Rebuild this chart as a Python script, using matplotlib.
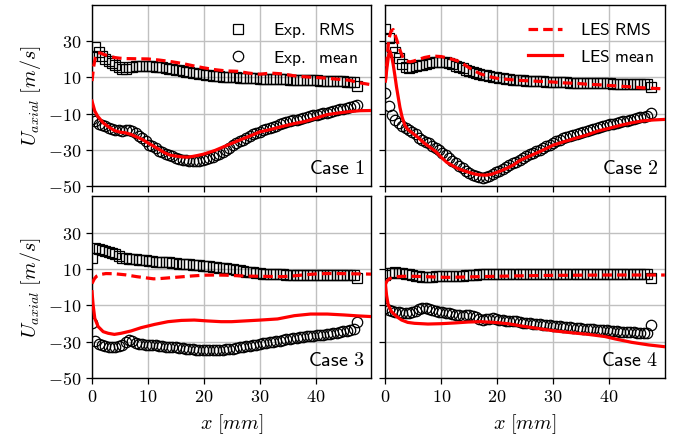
import numpy as np
import matplotlib
matplotlib.use("Agg")
import matplotlib.pyplot as plt
from matplotlib.ticker import FuncFormatter

plt.rcParams['mathtext.fontset'] = 'cm'

# ---------- experimental data (measurement grid + last probe) ----------
x_exp = np.append(np.arange(0, 46.9, 0.6), 47.5)

rms_1 = [22, 27, 24, 22, 20, 19, 18, 17, 15.5, 14.5,
         14.8, 15.5, 16, 16.2, 16.3, 16.3, 16.2, 16.2, 16.1, 16.0,
         15.8, 15.5, 15.2, 14.9, 14.6, 14.3, 14.0, 13.6, 13.2, 12.9,
         12.6, 12.3, 12.0, 11.7, 11.5, 11.2, 11.0, 10.8, 10.6, 10.4,
         10.3, 10.2, 10.1, 10.0, 9.9, 9.8, 9.7, 9.6, 9.5, 9.5,
         9.4, 9.3, 9.3, 9.2, 9.2, 9.1, 9.0, 9.0, 8.9, 8.8,
         8.8, 8.7, 8.7, 8.6, 8.5, 8.5, 8.4, 8.4, 8.3, 8.3,
         8.2, 8.1, 8.1, 8.0, 7.9, 7.8, 7.7, 7.6, 7.5, 5.2]
mean_1 = [-13.1, -14.0, -15.5, -16.3, -17.0, -17.7, -18.2, -18.8, -19.2, -19.3,
          -18.8, -18.7, -19.5, -20.8, -22.0, -23.5, -25.0, -27.0, -28.0, -29.0,
          -30.3, -31.2, -32.0, -32.8, -33.5, -34.2, -34.8, -35.3, -35.7, -36.0,
          -36.1, -36.0, -35.8, -35.4, -34.9, -34.3, -33.6, -32.8, -32.0, -31.0,
          -29.8, -28.6, -27.4, -26.3, -25.2, -24.2, -23.2, -22.3, -21.4, -20.6,
          -19.8, -19.1, -18.4, -17.7, -17.1, -16.5, -15.9, -15.3, -14.7, -14.2,
          -13.7, -13.2, -12.7, -12.2, -11.7, -11.3, -10.9, -10.5, -10.2, -9.8,
          -9.4, -9.0, -8.6, -8.1, -7.6, -7.1, -6.6, -6.1, -5.7, -4.9]

rms_2 = [36.5, 31.5, 27.0, 24.0, 20.5, 17.5, 15.5, 15.4, 15.8, 16.2,
         16.6, 17.1, 17.6, 18.0, 18.3, 18.5, 18.6, 18.5, 18.3, 17.9,
         17.2, 16.5, 15.8, 15.0, 14.2, 13.5, 13.0, 12.4, 11.9, 11.5,
         11.1, 10.7, 10.3, 10.0, 9.7, 9.5, 9.2, 9.0, 8.8, 8.6,
         8.5, 8.4, 8.3, 8.2, 8.1, 8.0, 7.9, 7.8, 7.7, 7.6,
         7.6, 7.5, 7.4, 7.4, 7.3, 7.2, 7.2, 7.1, 7.1, 7.0,
         7.0, 6.9, 6.9, 6.8, 6.8, 6.7, 6.7, 6.7, 6.6, 6.6,
         6.6, 6.5, 6.5, 6.5, 6.4, 6.4, 6.4, 6.3, 6.3, 4.8]
mean_2 = [1.5, -5.5, -10.5, -13.2, -15.0, -16.6, -18.0, -19.2, -20.3, -21.4,
          -23.3, -24.3, -25.3, -26.3, -27.5, -28.8, -30.2, -31.5, -32.9, -34.3,
          -35.9, -37.3, -38.8, -40.1, -41.5, -42.6, -43.5, -44.2, -44.8, -45.2,
          -44.8, -44.2, -43.3, -42.3, -41.3, -40.2, -39.2, -38.3, -37.3, -36.3,
          -35.4, -34.4, -33.4, -32.4, -31.5, -30.6, -29.7, -28.8, -27.9, -27.0,
          -26.0, -25.1, -24.3, -23.6, -22.9, -22.2, -21.6, -21.0, -20.5, -19.9,
          -19.3, -18.8, -18.3, -17.8, -17.3, -16.8, -16.3, -15.8, -15.4, -15.0,
          -14.6, -14.2, -13.8, -13.4, -12.9, -12.4, -11.9, -11.5, -11.2, -9.6]

rms_3 = [15.9, 21.4, 21.0, 20.4, 19.8, 19.3, 18.7, 18.3, 17.0, 15.9,
         15.9, 15.7, 15.5, 15.3, 15.1, 14.9, 14.7, 14.5, 14.3, 14.1,
         14.0, 13.9, 13.7, 13.6, 13.4, 13.2, 13.0, 12.8, 12.6, 12.5,
         12.4, 12.2, 12.0, 11.8, 11.6, 11.4, 11.2, 11.0, 10.8, 10.6,
         10.4, 10.1, 9.8, 9.5, 9.2, 8.9, 8.6, 8.4, 8.2, 7.9,
         7.7, 7.5, 7.4, 7.3, 7.2, 7.1, 7.0, 7.0, 6.9, 6.9,
         6.8, 6.8, 6.8, 6.7, 6.7, 6.7, 6.7, 6.7, 6.7, 6.7,
         6.7, 6.7, 6.7, 6.7, 6.7, 6.7, 6.7, 6.7, 6.7, 4.9]
mean_3 = [-19.9, -29.8, -31.2, -32.0, -32.6, -33.0, -33.1, -32.9, -32.6, -32.0,
          -30.3, -29.2, -29.8, -30.6, -31.1, -31.5, -31.7, -31.9, -32.0, -32.1,
          -32.3, -32.5, -32.7, -32.8, -33.0, -33.2, -33.4, -33.6, -33.8, -34.0,
          -34.3, -34.5, -34.6, -34.6, -34.6, -34.7, -34.6, -34.6, -34.5, -34.4,
          -34.3, -34.1, -33.8, -33.5, -33.2, -32.9, -32.6, -32.3, -32.0, -31.6,
          -31.3, -31.0, -30.7, -30.3, -30.0, -29.7, -29.4, -29.1, -28.8, -28.5,
          -28.2, -28.0, -27.7, -27.4, -27.1, -26.9, -26.7, -26.5, -26.3, -26.1,
          -26.0, -25.7, -25.4, -25.0, -24.7, -24.3, -23.9, -23.5, -23.2, -19.0]

rms_4 = [6.7, 7.6, 8.0, 8.2, 7.9, 7.6, 7.3, 7.1, 6.7, 6.3,
         6.0, 5.8, 5.8, 5.8, 5.8, 5.9, 6.0, 6.1, 6.2, 6.3,
         6.3, 6.3, 6.3, 6.4, 6.5, 6.6, 6.7, 6.9, 7.0, 7.1,
         7.1, 7.2, 7.2, 7.2, 7.2, 7.2, 7.2, 7.2, 7.2, 7.2,
         7.2, 7.3, 7.3, 7.2, 7.2, 7.1, 7.1, 7.2, 7.2, 7.3,
         7.3, 7.3, 7.2, 7.2, 7.2, 7.1, 7.2, 7.2, 7.3, 7.3,
         7.2, 7.2, 7.2, 7.3, 7.3, 7.2, 7.2, 7.2, 7.2, 7.2,
         7.2, 7.2, 7.2, 7.2, 7.2, 7.2, 7.2, 7.2, 7.2, 5.3]
mean_4 = [-11.7, -12.6, -13.1, -13.6, -13.9, -14.0, -14.0, -14.0, -13.7, -13.0,
          -11.9, -11.4, -11.6, -12.2, -12.8, -13.2, -13.5, -13.8, -14.1, -14.4,
          -14.8, -15.2, -15.5, -15.7, -15.5, -15.4, -15.9, -16.5, -17.5, -18.0,
          -17.6, -17.4, -17.2, -17.5, -18.0, -18.2, -18.4, -18.5, -18.7, -18.9,
          -19.2, -19.5, -19.7, -19.9, -20.1, -20.3, -20.5, -20.7, -20.8, -21.0,
          -21.2, -21.4, -21.6, -21.8, -22.0, -22.2, -22.4, -22.6, -22.7, -22.9,
          -23.0, -23.1, -23.2, -23.4, -23.5, -23.6, -23.8, -24.0, -24.2, -24.3,
          -24.5, -24.6, -24.7, -24.8, -24.9, -25.0, -25.2, -25.3, -25.4, -20.8]

# ---------- LES data ----------
les_rms_x_1 = [0, 0.3, 0.6, 1, 1.5, 2, 3, 4, 5, 6, 8, 10, 12, 14, 16, 18, 20, 22,
               24, 26, 28, 30, 32, 34, 36, 38, 40, 42, 44, 46, 48, 50]
les_rms_1 = [8, 16, 21, 23.5, 23.5, 22.8, 21.8, 21, 20.6, 20.4, 20.3, 20.2, 19.6,
             18.8, 17.8, 16.5, 15.3, 14.3, 13.6, 13.4, 12.4, 11.8, 12.4, 12, 11,
             10.4, 10, 9.6, 9, 8.5, 7, 6]
les_mean_x_1 = [0, 0.5, 1, 2, 3, 4, 5, 6, 7, 8, 9, 10, 11, 12, 13, 14, 15, 16, 17,
                18, 19, 20, 22, 24, 26, 28, 30, 32, 34, 36, 38, 40, 42, 44, 46, 48, 50]
les_mean_1 = [-3, -8.5, -11.3, -15, -17.3, -19.2, -20.1, -20.5, -21.4, -22.8, -24.1,
              -26, -27.8, -29.6, -31.5, -32.8, -33.3, -33.7, -33.9, -33.5, -32.9,
              -32.2, -30.2, -27.6, -25, -22.6, -20, -18.6, -17, -15.5, -14.3, -12.5,
              -10.5, -9.6, -8.8, -8.3, -8.2]

les_rms_x_2 = [0, 0.3, 0.6, 1, 1.4, 2, 2.6, 3.2, 3.8, 4.4, 5, 6, 7, 8, 9, 10, 11, 12,
               13, 14, 15, 16, 17, 18, 19, 20, 22, 24, 26, 28, 30, 32, 34, 36, 38,
               40, 42, 44, 46, 48, 50]
les_rms_2 = [8, 20, 31, 35.5, 36.4, 31, 25, 20.5, 19, 18.6, 19, 20, 21, 21.6, 21.7,
             21.5, 20.8, 20, 19, 17.3, 15.3, 13.5, 12, 11, 10.2, 9.5, 8.9, 8.4, 8.1,
             7.8, 7.5, 7, 6.8, 6.3, 6, 5.6, 5.2, 4.8, 4.3, 4, 3.7]
les_mean_x_2 = [0, 0.3, 0.6, 0.8, 1.1, 1.4, 1.7, 2, 2.3, 2.6, 3, 3.5, 4, 5, 6, 7, 8,
                9, 10, 11, 12, 13, 14, 15, 16, 17, 18, 19, 20, 21, 22, 23, 24, 26,
                28, 30, 32, 34, 36, 38, 40, 42, 44, 46, 48, 50]
les_mean_2 = [8, 16, 23, 24.5, 22, 17, 11, 4.5, -1, -6.5, -12, -16.5, -18.6, -21,
              -23.5, -26.3, -28.5, -30.8, -34, -36.8, -38.5, -40.2, -41.3, -42.3,
              -43.2, -43.7, -43.8, -43.3, -42.2, -41, -39.6, -38, -35.8, -33,
              -30.3, -27.3, -25.3, -23.5, -21.7, -19.5, -18, -16.4, -15, -13.9,
              -13.4, -13.1]

les_rms_x_3 = [0, 0.4, 0.8, 1.5, 2.5, 4, 6, 8, 10, 11, 12, 14, 16, 18, 20, 22, 24,
               26, 28, 30, 32, 34, 36, 38, 40, 42, 44, 46, 48, 50]
les_rms_3 = [2, 4.5, 6, 7, 7.5, 7.4, 6.8, 5.8, 5, 4.6, 4.7, 5.2, 5.7, 6.2, 6.6, 6.7,
             6.6, 6.3, 6.1, 6, 5.9, 5.8, 6.2, 6.8, 7.3, 7.5, 7.5, 7.4, 7.3, 7.2]
les_mean_x_3 = [0, 0.2, 0.5, 1.1, 2, 2.9, 4, 5.2, 7, 8.8, 11.2, 13.6, 16, 18.3,
                20.7, 23.1, 25, 27.3, 30.2, 33.2, 36.2, 39.1, 42.1, 45.1, 47.5, 50]
les_mean_3 = [-2.5, -9.8, -17.2, -21.7, -24.5, -25.4, -26, -25.4, -24.1, -22.3,
              -20.5, -19, -18.3, -18.1, -18.6, -19, -19, -18.6, -18.1, -17.5,
              -15.7, -14.8, -14.8, -15.3, -15.8, -16.2]

les_rms_x_4 = [0, 0.3, 0.8, 1.7, 3, 5, 8, 11, 14, 17, 20, 25, 30, 35, 40, 45, 50]
les_rms_4 = [1.5, 3.5, 4.8, 5.6, 6, 6, 5.7, 5.4, 5.6, 5.8, 6, 6.3, 6.5, 6.6, 6.7,
             6.7, 6.7]
les_mean_x_4 = [0, 0.2, 0.5, 1.1, 2, 2.9, 4, 5.2, 7.6, 10, 12.4, 14.8, 17.1, 19.5,
                21.9, 24.4, 27.4, 30.3, 33.3, 36.3, 39.3, 41.1, 44.1, 47.1, 50]
les_mean_4 = [2.1, -4.3, -9.8, -13.5, -16.2, -18.1, -19.4, -19.9, -20.3, -20.1,
              -19.7, -19.2, -19, -19.4, -20.1, -21.4, -22.8, -24.1, -25.1, -26,
              -27.2, -28.5, -30.4, -31.8, -32.8]

cases = [
    ("Case 1", rms_1, mean_1, les_rms_x_1, les_rms_1, les_mean_x_1, les_mean_1),
    ("Case 2", rms_2, mean_2, les_rms_x_2, les_rms_2, les_mean_x_2, les_mean_2),
    ("Case 3", rms_3, mean_3, les_rms_x_3, les_rms_3, les_mean_x_3, les_mean_3),
    ("Case 4", rms_4, mean_4, les_rms_x_4, les_rms_4, les_mean_x_4, les_mean_4),
]

x_ticks = [0, 10, 20, 30, 40]
y_ticks = [-50, -30, -10, 10, 30]

# ---------- plotting ----------
fig, axes = plt.subplots(2, 2, figsize=(6.84, 4.40), dpi=100, sharex=True, sharey=True)
fig.subplots_adjust(left=0.1345, right=0.972, bottom=0.141, top=0.989,
                    wspace=0.05, hspace=0.055)

math_fmt = FuncFormatter(lambda v, p: r"$%g$" % v)

for ax, (name, rms, mean, lrx, lrms, lmx, lmean) in zip(axes.flat, cases):
    ax.plot(x_exp, rms, ls='none', marker='s', ms=7.2, mfc='none', mec='black',
            mew=0.9, label=r"$\mathsf{Exp.\ \ RMS}$", zorder=3)
    ax.plot(x_exp, mean, ls='none', marker='o', ms=7.5, mfc='none', mec='black',
            mew=0.9, label=r"$\mathsf{Exp.\ \ mean}$", zorder=3)
    ax.plot(lrx, lrms, color='red', lw=2.3, ls=(0, (3.0, 1.6)),
            label=r"$\mathsf{LES\ RMS}$", zorder=4)
    ax.plot(lmx, lmean, color='red', lw=2.3, label=r"$\mathsf{LES\ mean}$", zorder=4)

    ax.set_xlim(0, 50)
    ax.set_ylim(-50, 50)
    ax.set_xticks(x_ticks)
    ax.set_yticks(y_ticks)
    ax.xaxis.set_major_formatter(math_fmt)
    ax.yaxis.set_major_formatter(math_fmt)
    ax.tick_params(labelsize=13, length=4, width=0.9)
    ax.grid(True, color='#c0c0c0', lw=1.0)
    ax.set_axisbelow(True)
    for s in ax.spines.values():
        s.set_linewidth(1.0)
    ax.text(0.975, 0.045, r"$\mathsf{%s}$" % name.replace(" ", r"\ "),
            transform=ax.transAxes, ha='right', va='bottom', fontsize=14.5)

# legends
h, l = axes[0, 0].get_legend_handles_labels()
leg_kw = dict(loc='upper right', frameon=False, fontsize=12.5, handlelength=2.0,
              handletextpad=1.0, labelspacing=0.5, borderaxespad=0.0)
axes[0, 0].legend(h[:2], l[:2], bbox_to_anchor=(0.975, 0.95), **leg_kw)
axes[0, 1].legend(h[2:], l[2:], bbox_to_anchor=(0.985, 0.95), **leg_kw)

for ax in axes[:, 0]:
    ax.set_ylabel(r"$U_{axial}\ [m/s]$", fontsize=14.5)
for ax in axes[1, :]:
    ax.set_xlabel(r"$x\ [mm]$", fontsize=14.5)

fig.savefig("out.png", dpi=100)
